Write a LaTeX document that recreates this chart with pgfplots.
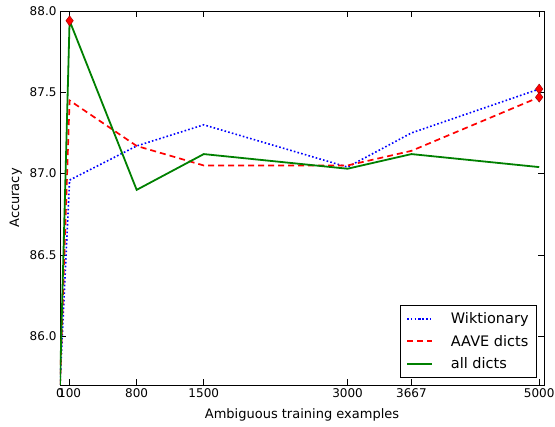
\documentclass[border=0pt]{standalone}
\usepackage{pgfplots}
\pgfplotsset{compat=1.18}
\usepackage{fontspec}
\setmainfont{DejaVu Sans}
\definecolor{mplgreen}{rgb}{0,0.5,0}
\begin{document}
\begin{tikzpicture}
\begin{axis}[
  scale only axis,
  width=484pt, height=374pt,
  xmin=0, xmax=5050, ymin=85.7, ymax=88.0,
  xtick={0,100,800,1500,3000,3667,5000},
  ytick={86.0,86.5,87.0,87.5,88.0},
  yticklabel style={/pgf/number format/.cd,fixed,fixed zerofill,precision=1},
  /pgf/number format/assume math mode=true,
  xticklabel style={/pgf/number format/.cd,set thousands separator={}},
  tick align=inside,
  tick pos=both,
  major tick length=6pt,
  tick style={black,line width=0.6pt},
  axis line style={black,line width=0.8pt},
  ticklabel style={font=\fontsize{12}{14}\selectfont},
  label style={font=\fontsize{13}{15}\selectfont},
  xlabel={Ambiguous training examples},
  ylabel={Accuracy},
  xlabel style={yshift=-4pt},
  ylabel style={yshift=1pt},
  legend style={font=\fontsize{14.5}{17}\selectfont, draw=black, line width=0.8pt, inner xsep=6pt, inner ysep=5.5pt, row sep=6pt, at={(0.9855,0.0187)}, anchor=south east,
    /tikz/every odd column/.append style={column sep=16pt}},
  legend cell align=left,
  legend image code/.code={\draw[mark repeat=2,mark phase=2,#1] plot coordinates {(0cm,0cm) (0.44cm,0cm) (0.88cm,0cm)};},
]
\addplot[blue, dash pattern=on 1.6pt off 2.2pt, line width=1.6pt] coordinates {(0,85.7) (100,86.96) (800,87.17) (1500,87.30) (3000,87.04) (3667,87.25) (5000,87.52)};
\addlegendentry{Wiktionary}
\addplot[red, dash pattern=on 6pt off 4pt, line width=1.7pt] coordinates {(0,85.7) (100,87.45) (800,87.17) (1500,87.05) (3000,87.05) (3667,87.14) (5000,87.47)};
\addlegendentry{AAVE dicts}
\addplot[mplgreen, line width=1.8pt] coordinates {(0,85.7) (100,87.94) (800,86.90) (1500,87.12) (3000,87.03) (3667,87.12) (5000,87.04)};
\addlegendentry{all dicts}
\addplot[only marks, mark=diamond*, mark size=5pt, mark options={fill=red, draw=red!60!black, line width=0.4pt}, forget plot] coordinates {(100,87.94) (5000,87.52) (5000,87.47)};
\end{axis}
\pgfresetboundingbox
\path ([shift={(-60pt,-42pt)}]current axis.south west) rectangle ([shift={(11pt,11pt)}]current axis.north east);
\end{tikzpicture}
\end{document}
